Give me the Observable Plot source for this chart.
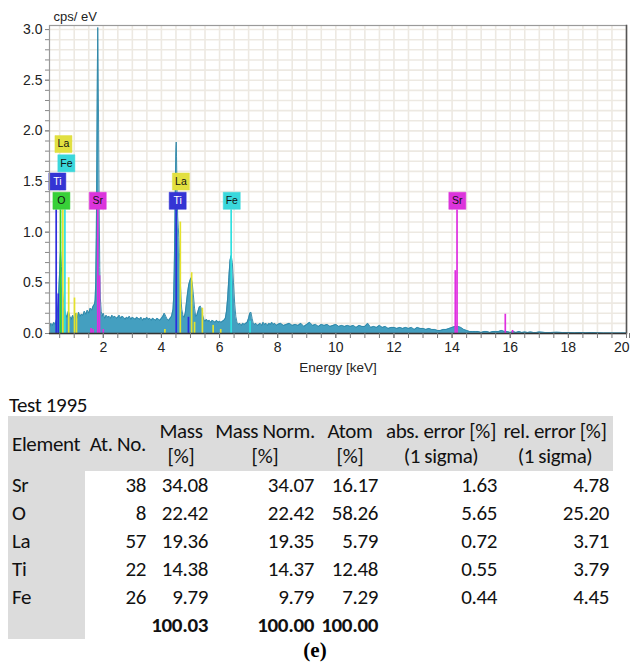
<!DOCTYPE html>
<html>
<head>
<meta charset="utf-8">
<script src="https://cdn.jsdelivr.net/npm/d3@7"></script>
<script src="https://cdn.jsdelivr.net/npm/@observablehq/plot@0.6"></script>
<style>
  html, body { margin: 0; padding: 0; background: #fff; }
  #wrap { position: relative; width: 630px; height: 666px; overflow: hidden; }
  #chart { position: absolute; left: 0; top: 0; }
  .tfont { font-family: Calibri, Carlito, Lato, "Open Sans", sans-serif; font-size: 21px; color: #111; letter-spacing: -0.35px; }
  .cell { position: absolute; white-space: nowrap; line-height: 26px; height: 26px; }
  .bg { position: absolute; background: #dcdcdc; }
  #title { position: absolute; left: 9px; top: 393px; line-height: 24px; }
  #cap { position: absolute; left: 0; width: 630px; top: 638px; text-align: center; font-family: "Liberation Serif", "Times New Roman", serif; font-weight: bold; font-size: 21px; }
</style>
</head>
<body>
<div id="wrap">
  <div id="chart"></div>
  <div id="title" class="tfont">Test 1995</div>
  <div id="tbl" class="tfont"></div>
  <div id="cap">(e)</div>
</div>
<script>
// ---------------- spectrum (energy keV, counts cps/eV) ----------------
const energy = [
  0.15,0.20,0.25,0.30,0.35,0.40,0.45,0.50,0.53,0.56,0.60,0.65,0.70,0.75,0.80,0.85,0.90,0.95,1.00,1.05,
  1.10,1.15,1.20,1.25,1.30,1.35,1.40,1.45,1.50,1.55,1.60,1.65,1.70,1.72,1.74,1.76,1.78,1.80,1.81,1.82,
  1.84,1.86,1.88,1.90,1.93,1.96,2.00,2.05,2.10,2.15,2.20,2.25,2.30,2.35,2.40,2.45,2.50,2.55,2.60,2.65,
  2.70,2.75,2.80,2.85,2.90,2.95,3.00,3.05,3.10,3.15,3.20,3.25,3.30,3.35,3.40,3.45,3.50,3.55,3.60,3.65,
  3.70,3.75,3.80,3.85,3.90,3.95,4.00,4.05,4.10,4.15,4.20,4.25,4.30,4.35,4.40,4.42,4.44,4.46,4.48,4.50,
  4.51,4.52,4.54,4.56,4.58,4.60,4.62,4.64,4.66,4.68,4.70,4.74,4.78,4.82,4.86,4.90,4.94,4.98,5.02,5.06,
  5.10,5.14,5.18,5.22,5.26,5.30,5.34,5.38,5.42,5.46,5.50,5.55,5.60,5.65,5.70,5.75,5.80,5.85,5.90,5.95,
  6.00,6.05,6.10,6.15,6.20,6.24,6.28,6.32,6.36,6.40,6.44,6.48,6.52,6.56,6.60,6.65,6.70,6.75,6.80,6.85,
  6.90,6.95,7.00,7.04,7.08,7.12,7.16,7.20,7.25,7.30,7.35,7.40,7.45,7.50,7.55,7.60,7.65,7.70,7.75,7.80,
  7.85,7.90,7.95,8.00,8.1,8.2,8.3,8.4,8.5,8.6,8.7,8.8,8.9,9.0,9.1,9.2,9.3,9.4,9.5,9.6,
  9.7,9.8,9.9,10.0,10.1,10.2,10.3,10.4,10.5,10.6,10.7,10.8,10.9,11.0,11.1,11.2,11.3,11.4,11.5,11.6,
  11.7,11.8,11.9,12.0,12.1,12.2,12.3,12.4,12.5,12.6,12.7,12.8,12.9,13.0,13.1,13.2,13.3,13.4,13.5,13.6,
  13.7,13.8,13.9,14.0,14.1,14.2,14.3,14.4,14.5,14.6,14.7,14.8,14.9,15.0,15.1,15.2,15.3,15.4,15.5,15.6,
  15.7,15.8,15.9,16.0,16.1,16.2,16.3,16.4,16.5,16.6,16.7,16.8,16.9,17.0,17.2,17.4,17.6,17.8,18.0,18.2,
  18.4,18.6,18.8,19.0,19.2,19.4,19.6,19.8,20.0
];
const counts = [
  0.06,0.10,0.08,0.11,0.09,0.15,0.30,0.62,0.82,0.66,0.42,0.26,0.20,0.16,0.22,0.17,0.14,0.18,0.14,0.20,
  0.15,0.21,0.17,0.19,0.18,0.22,0.19,0.23,0.20,0.25,0.23,0.27,0.29,0.33,0.50,0.95,1.75,2.70,3.02,2.80,
  2.00,1.20,0.65,0.35,0.22,0.17,0.20,0.15,0.18,0.16,0.17,0.15,0.18,0.16,0.17,0.15,0.16,0.18,0.15,0.17,
  0.16,0.14,0.16,0.15,0.17,0.14,0.16,0.15,0.14,0.16,0.15,0.14,0.16,0.13,0.15,0.14,0.16,0.14,0.15,0.13,
  0.15,0.14,0.13,0.15,0.14,0.13,0.15,0.17,0.20,0.17,0.14,0.13,0.15,0.17,0.24,0.35,0.60,1.00,1.45,1.80,
  1.89,1.75,1.40,1.15,1.05,0.95,0.80,0.60,0.45,0.32,0.24,0.18,0.16,0.20,0.30,0.40,0.48,0.52,0.55,0.50,
  0.38,0.25,0.17,0.18,0.22,0.26,0.27,0.24,0.18,0.14,0.12,0.14,0.12,0.13,0.11,0.13,0.12,0.11,0.13,0.11,
  0.12,0.11,0.12,0.13,0.15,0.22,0.35,0.55,0.72,0.77,0.70,0.50,0.30,0.17,0.11,0.09,0.10,0.08,0.10,0.09,
  0.10,0.11,0.15,0.20,0.21,0.15,0.10,0.09,0.10,0.08,0.09,0.10,0.08,0.11,0.09,0.10,0.08,0.10,0.09,0.11,
  0.09,0.10,0.08,0.09,0.10,0.08,0.09,0.10,0.08,0.09,0.08,0.10,0.07,0.09,0.11,0.08,0.09,0.07,0.09,0.08,
  0.09,0.07,0.08,0.09,0.07,0.08,0.07,0.08,0.07,0.08,0.06,0.08,0.07,0.07,0.10,0.06,0.07,0.06,0.08,0.06,
  0.07,0.05,0.06,0.06,0.05,0.06,0.05,0.06,0.05,0.06,0.04,0.06,0.05,0.05,0.04,0.05,0.04,0.04,0.03,0.03,
  0.04,0.04,0.05,0.06,0.07,0.07,0.06,0.04,0.03,0.02,0.02,0.02,0.02,0.01,0.02,0.02,0.01,0.02,0.02,0.02,
  0.03,0.02,0.02,0.01,0.02,0.01,0.02,0.01,0.015,0.01,0.015,0.01,0.01,0.015,0.01,0.01,0.012,0.01,0.01,0.008,
  0.01,0.008,0.01,0.008,0.006,0.006,0.005,0.005,0.005
];

// ---------------- element marker lines ----------------
const lineElement = ["Ti","Ti","O","La","Fe","La","La","La","Sr","Sr","Sr","Sr","Sr","La","Ti","La","La","Ti","La","La","La","La","Fe","Fe","Sr","Sr","Sr","Sr"];
const lineEnergy  = [0.38,0.45,0.53,0.61,0.68,0.81,1.01,1.08,1.58,1.65,1.81,1.87,2.00,4.12,4.51,4.65,5.04,4.93,5.14,5.41,5.78,6.04,6.40,7.05,14.11,14.17,15.83,16.08];
const lineHeight  = [1.22,0.39,1.22,1.22,1.22,0.55,0.35,0.20,0.05,0.04,1.22,0.57,0.04,0.04,1.22,1.10,0.60,0.16,0.11,0.25,0.08,0.04,1.22,0.12,0.62,1.22,0.19,0.03];

// ---------------- element labels ----------------
const labelElement = ["La","Fe","Ti","O","Sr","La","Ti","Fe","Sr"];
const labelEnergy  = [0.63,0.73,0.42,0.56,1.81,4.67,4.56,6.42,14.18];
const labelLevel   = [1.87,1.68,1.50,1.31,1.31,1.50,1.31,1.31,1.31];

// ---------------- axes ----------------
const yTicks = [0.0,0.5,1.0,1.5,2.0,2.5,3.0];
const xTicks = [2,4,6,8,10,12,14,16,18,20];

// ---------------- table ----------------
const tableTitle = "Test 1995";
const headers = [["Element"],["At. No."],["Mass","[%]"],["Mass Norm.","[%]"],["Atom","[%]"],["abs. error [%]","(1 sigma)"],["rel. error [%]","(1 sigma)"]];
const elements = ["Sr","O","La","Ti","Fe"];
const atNo     = ["38","8","57","22","26"];
const mass     = ["34.08","22.42","19.36","14.38","9.79"];
const massNorm = ["34.07","22.42","19.35","14.37","9.79"];
const atom     = ["16.17","58.26","5.79","12.48","7.29"];
const absErr   = ["1.63","5.65","0.72","0.55","0.44"];
const relErr   = ["4.78","25.20","3.71","3.79","4.45"];
const totals   = ["", "", "100.03", "100.00", "100.00", "", ""];

const elColor = {Ti: "#2c2cdc", O: "#2fd42f", La: "#e4e22c", Fe: "#2fe0e0", Sr: "#e02ee0"};
const elBox   = {Ti: "#3434d4", O: "#38d038", La: "#e2e040", Fe: "#3ad8dc", Sr: "#dc34dc"};
const elText  = {Ti: "#ffffff", O: "#111", La: "#111", Fe: "#111", Sr: "#111"};

const spectrum = energy.map((e, i) => ({e, c: counts[i]}));
const lines = lineEnergy.map((e, i) => ({el: lineElement[i], e, h: lineHeight[i]}));
const labels = labelEnergy.map((e, i) => ({el: labelElement[i], e, y: labelLevel[i]}));

const xDomain = [0.15, 20.0];
const xGrid = d3.range(0.5, 20.01, 0.5);
const yGrid = d3.range(1, 31).map(d => d / 10);
const yMinor = d3.range(0, 31).map(d => d / 10);
const font = "'Liberation Sans', Arial, sans-serif";

const chart = Plot.plot({
  width: 630, height: 380,
  marginLeft: 49, marginRight: 4, marginTop: 25, marginBottom: 47,
  x: {domain: xDomain},
  y: {domain: [0, 3.04]},
  style: {fontFamily: font, fontSize: "14px", color: "#222", background: "#fff"},
  marks: [
    Plot.gridX(xGrid, {stroke: "#ede9e2", strokeOpacity: 1, strokeWidth: 1.6}),
    Plot.gridY(yGrid, {stroke: "#ede9e2", strokeOpacity: 1, strokeWidth: 1.6}),
    Plot.areaY(spectrum, {x: "e", y: "c", fill: "#449fc0"}),
    Plot.lineY(spectrum, {x: "e", y: "c", stroke: "#2b84a6", strokeWidth: 0.9}),
    Plot.ruleX(lines, {x: "e", y1: 0, y2: "h", stroke: d => elColor[d.el], strokeWidth: 1.7}),
    Plot.dot(labels, {x: "e", y: "y", symbol: "square", r: 9.6, fill: d => elBox[d.el], stroke: d => elBox[d.el], strokeOpacity: 0.5, strokeWidth: 1}),
    Plot.text(labels, {x: "e", y: "y", text: "el", fill: d => elText[d.el], fontSize: 10.5, fontFamily: font}),
    Plot.frame({stroke: "#9a9a9a", strokeWidth: 1.2}),
    Plot.frame({anchor: "right", stroke: "#555", strokeWidth: 1.5}),
    Plot.ruleY([0], {stroke: "#333", strokeWidth: 1.5}),
    Plot.axisY(yMinor, {tickSize: 4, stroke: "#888", tickFormat: () => "", label: null}),
    Plot.axisY(yTicks, {tickSize: 4, stroke: "#888", tickFormat: ".1f", tickPadding: 3, fontSize: 14, label: null}),
    Plot.axisX(xGrid, {tickSize: 5, stroke: "#777", tickFormat: () => "", label: null}),
    Plot.axisX(xTicks.slice(0, -1), {tickSize: 5, stroke: "#777", tickPadding: 4, fontSize: 14, label: null}),
    Plot.axisX(xTicks.slice(-1), {tickSize: 5, stroke: "#777", tickPadding: 4, fontSize: 14, textAnchor: "end", dx: 3, label: null}),
    Plot.text(["cps/ eV"], {frameAnchor: "top-left", dx: 4, dy: -9, textAnchor: "start", lineAnchor: "middle", fontSize: 13}),
    Plot.text(["Energy [keV]"], {frameAnchor: "bottom", dy: 34, lineAnchor: "middle", fontSize: 13.5})
  ]
});
document.getElementById("chart").appendChild(chart);

// ---------------- table build (absolute layout) ----------------
document.getElementById("title").textContent = tableTitle;
const tbl = d3.select("#tbl");
const W = 630;
// layout (pixels)
const tLeft = 8, tRight = 613, hTop = 416, hBottom = 471, rowH = 28;
const colRight  = [null, 146, 208, 314, 378, 497, 609];
const colCenter = [null, null, 181, 265, 350, 441, 555];
const nRows = elements.length + 1;
tbl.append("div").attr("class", "bg").style("left", tLeft + "px").style("top", hTop + "px")
  .style("width", (tRight - tLeft) + "px").style("height", (hBottom - hTop) + "px");
tbl.append("div").attr("class", "bg").style("left", tLeft + "px").style("top", hBottom + "px")
  .style("width", "77px").style("height", (nRows * rowH) + "px");

function cell(text, cy, opts) {
  const d = tbl.append("div").attr("class", "cell").text(text).style("top", (cy - 13) + "px");
  if (opts.left != null) d.style("left", opts.left + "px");
  if (opts.right != null) d.style("right", (W - opts.right) + "px").style("text-align", "right");
  if (opts.center != null) d.style("left", (opts.center - 80) + "px").style("width", "160px").style("text-align", "center");
  if (opts.bold) d.style("font-weight", "bold");
  return d;
}
const hMid = (hTop + hBottom) / 2;
headers.forEach((h, i) => {
  if (h.length === 1) {
    if (i === 0) cell(h[0], hMid, {left: 12});
    else cell(h[0], hMid, {right: colRight[i]});
  } else {
    cell(h[0], hMid - 12.5, {center: colCenter[i]});
    cell(h[1], hMid + 12.5, {center: colCenter[i]});
  }
});
elements.forEach((el, r) => {
  const cy = hBottom + rowH * r + rowH / 2;
  cell(el, cy, {left: 12});
  [atNo[r], mass[r], massNorm[r], atom[r], absErr[r], relErr[r]].forEach((v, j) => cell(v, cy, {right: colRight[j + 1]}));
});
const cyT = hBottom + rowH * elements.length + rowH / 2;
totals.forEach((v, j) => { if (v) cell(v, cyT, {right: colRight[j], bold: true}); });
</script>
</body>
</html>
